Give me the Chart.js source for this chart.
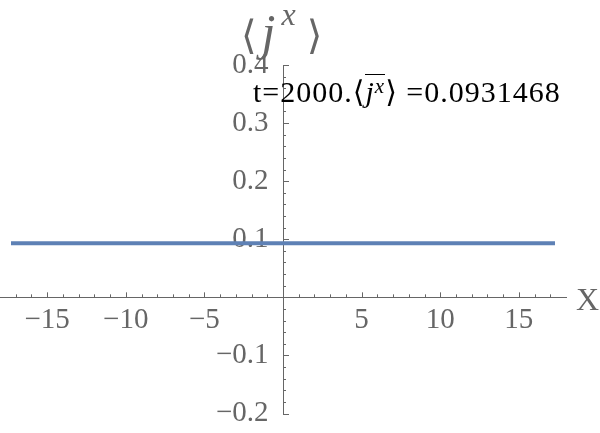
<!DOCTYPE html>
<html>
<head>
<meta charset="utf-8">
<script src="https://cdn.jsdelivr.net/npm/chart.js@4"></script>
<style>
  body { margin: 0; background: #fff; }
  #wrap { position: relative; width: 600px; height: 433px; }
  .lab { position: absolute; font-family: "Liberation Serif", "DejaVu Serif", serif; line-height: 1; white-space: nowrap; }
  #ylab { left: 241px; top: 7px; font-size: 40px; color: #666; }
  #ylab .j { margin-left: 5px; font-size: 50px; }
  #ylab .upx { position: relative; top: -0.75em; font-style: italic; margin-left: 6px; margin-right: 11px; font-size: 32px; }
  #xlab { left: 576px; top: 283px; font-size: 32px; color: #666; }
  #note { left: 253px; top: 77px; font-size: 30px; color: #000; letter-spacing: 1px; }
  .up { position: relative; top: -0.45em; font-size: 0.7em; font-style: italic; }
  .ov { border-top: 1.5px solid #000; }
</style>
</head>
<body>
<div id="wrap">
  <canvas id="myChart" width="600" height="433"></canvas>
  <div class="lab" id="ylab">⟨<i class="j">j</i><span class="upx">x</span>⟩</div>
  <div class="lab" id="xlab">X</div>
  <div class="lab" id="note">t=2000.⟨<span class="ov"><i>j</i><span class="up">x</span></span>⟩ =0.0931468</div>
</div>
<script>
// values
const xValues = [-17.3, 17.3];
const jxValues = [0.0931468, 0.0931468];
const xTicks = [-15, -10, -5, 5, 10, 15];
const yTicks = [-0.2, -0.1, 0.1, 0.2, 0.3, 0.4];

const axisGray = "#666666";
const tickFont = { family: "'Liberation Serif', 'DejaVu Serif', serif", size: 29, lineHeight: 1 };

function minus(v, digits) {
  const s = digits ? Math.abs(v).toFixed(digits) : String(Math.abs(v));
  return v < 0 ? "\u2212" + s : s;
}

// Mathematica style ticks, pointing into the plot from the axes
const axisTicks = {
  id: "axisTicks",
  afterDraw(chart) {
    const ctx = chart.ctx;
    const xs = chart.scales.x;
    const ys = chart.scales.y;
    const x0 = xs.getPixelForValue(0);
    const y0 = ys.getPixelForValue(0);
    ctx.save();
    ctx.strokeStyle = axisGray;
    ctx.lineWidth = 1;
    ctx.beginPath();
    for (let v = -17; v <= 17; v++) {
      if (v === 0) continue;
      const px = Math.round(xs.getPixelForValue(v)) + 0.5;
      const len = v % 5 === 0 ? 5 : 3;
      ctx.moveTo(px, y0);
      ctx.lineTo(px, y0 - len);
    }
    for (let k = -10; k <= 20; k++) {
      if (k === 0) continue;
      const py = Math.round(ys.getPixelForValue(k * 0.02)) + 0.5;
      const len = k % 5 === 0 ? 6 : 3;
      ctx.moveTo(x0, py);
      ctx.lineTo(x0 + len, py);
    }
    ctx.stroke();
    ctx.restore();
  }
};

const data = {
  datasets: [
    {
      data: xValues.map((x, i) => ({ x: x, y: jxValues[i] })),
      borderColor: "#5E81B5",
      backgroundColor: "#5E81B5",
      borderWidth: 4,
      pointRadius: 0,
      showLine: true,
    },
  ],
};

const config = {
  type: "scatter",
  data: data,
  options: {
    responsive: false,
    animation: false,
    devicePixelRatio: 1,
    layout: { padding: { left: 0, right: 34, top: 65, bottom: 19.5 } },
    plugins: { legend: { display: false }, tooltip: { enabled: false } },
    scales: {
      x: {
        type: "linear",
        min: -18,
        max: 18,
        position: { y: 0 },
        afterBuildTicks: (scale) => { scale.ticks = xTicks.map((v) => ({ value: v })); },
        grid: { drawOnChartArea: false, drawTicks: false },
        border: { color: axisGray, width: 1 },
        ticks: {
          color: axisGray,
          font: tickFont,
          padding: 9,
          maxRotation: 0,
          autoSkip: false,
          callback: (v) => minus(v),
        },
      },
      y: {
        type: "linear",
        min: -0.2,
        max: 0.4,
        position: { x: 0 },
        afterBuildTicks: (scale) => { scale.ticks = yTicks.map((v) => ({ value: v })); },
        grid: { drawOnChartArea: false, drawTicks: false },
        border: { color: axisGray, width: 1 },
        ticks: {
          color: axisGray,
          font: tickFont,
          padding: 0,
          autoSkip: false,
          // padding would also shrink the plot, so trailing spaces keep labels off the axis
          callback: (v) => minus(v, 1) + "  ",
        },
      },
    },
  },
  plugins: [axisTicks],
};

new Chart(document.getElementById("myChart"), config);
</script>
</body>
</html>
